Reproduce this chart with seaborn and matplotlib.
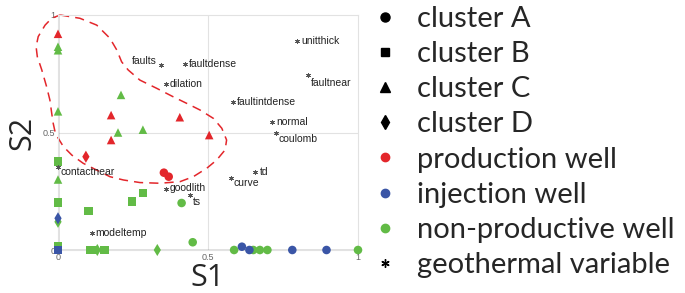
import pandas as pd
import numpy as np
import matplotlib
matplotlib.use("Agg")
import matplotlib.pyplot as plt
from matplotlib.lines import Line2D
import seaborn as sns

# wells: S1, S2, cluster, well type
well_x = [0.0, 0.177, 0.406, 0.177, 0.504, 0.093, 0.353, 0.369,
          0.0, 0.0, 0.0, 0.21, 0.2, 0.283, 0.0,
          0.0, 0.0, 0.102, 0.246, 0.283, 0.0, 0.107, 0.118, 0.155,
          0.0, 0.131, 0.331,
          0.412, 0.449, 0.587, 0.651, 0.673, 0.698, 1.0,
          0.0, 0.0, 0.613, 0.638, 0.781, 0.895]
well_y = [0.92, 0.574, 0.565, 0.468, 0.489, 0.397, 0.329, 0.312,
          0.865, 0.85, 0.59, 0.66, 0.5, 0.512, 0.30,
          0.376, 0.203, 0.166, 0.206, 0.243, 0.014, 0.0, 0.0, 0.0,
          0.12, 0.0, 0.0,
          0.2, 0.033, 0.0, 0.0, 0.0, 0.0, 0.0,
          0.0, 0.135, 0.014, 0.0, 0.0, 0.0]
well_cluster = ["C", "C", "C", "C", "C", "D", "A", "A",
                "C", "C", "C", "C", "C", "C", "C",
                "B", "B", "B", "B", "B", "B", "B", "B", "B",
                "D", "D", "D",
                "A", "A", "A", "A", "A", "A", "A",
                "B", "D", "A", "A", "A", "A"]
well_type = (["production"] * 8 + ["non-productive"] * 26 + ["injection"] * 6)

# geothermal variables
var_names = ["unitthick", "faults", "faultdense", "dilation", "faultnear", "faultintdense",
             "normal", "coulomb", "contactnear", "goodlith", "ts", "curve", "td", "modeltemp"]
var_x = [0.796, 0.344, 0.424, 0.359, 0.834, 0.584, 0.713, 0.727, 0.0, 0.359, 0.44, 0.577, 0.658, 0.112]
var_y = [0.889, 0.787, 0.791, 0.706, 0.745, 0.631, 0.545, 0.496, 0.355, 0.26, 0.234, 0.308, 0.333, 0.071]

# outline of the production-well region (dashed)
hull_x = [0.007, 0.073, 0.129, 0.173, 0.196, 0.212, 0.234, 0.273, 0.329, 0.384, 0.429, 0.473,
          0.518, 0.546, 0.562, 0.557, 0.529, 0.496, 0.451, 0.407, 0.340, 0.273, 0.218, 0.173,
          0.129, 0.084, 0.046, 0.018, 0.001, -0.010, -0.016, -0.021, -0.027, -0.038, -0.054,
          -0.069, -0.073, -0.066, -0.043, -0.021, 0.007]
hull_y = [1.0, 0.986, 0.957, 0.901, 0.851, 0.801, 0.766, 0.723, 0.688, 0.652, 0.624, 0.596,
          0.560, 0.518, 0.468, 0.426, 0.383, 0.348, 0.312, 0.291, 0.284, 0.287, 0.298, 0.312,
          0.340, 0.369, 0.404, 0.440, 0.475, 0.504, 0.539, 0.582, 0.638, 0.695, 0.766,
          0.823, 0.865, 0.908, 0.957, 0.986, 1.0]

df = pd.DataFrame({"S1": well_x, "S2": well_y, "cluster": well_cluster, "well": well_type})

RED, BLUE, GREEN = "#e3262b", "#3a55a6", "#62bb46"
pal = {"production": RED, "injection": BLUE, "non-productive": GREEN}
mk = {"A": "o", "B": "s", "C": "^", "D": "d"}
ASTER = (6, 2, 0)

# label placement (offset in points, alignment)
lab_pos = {"faults": (-3, 3, "right"), "faultnear": (2, -6, "left"), "coulomb": (2, -4, "left"),
           "ts": (2, -5, "left"), "curve": (2, -4, "left"), "contactnear": (2, -4, "left"),
           "goodlith": (3, 1, "left")}

sns.set_style("white")
plt.rcParams["font.family"] = ["Liberation Sans", "DejaVu Sans"]

fig = plt.figure(figsize=(6.85, 2.93), dpi=100)
ax = fig.add_axes([58 / 685, 43 / 293, 300 / 685, 235 / 293])

ax.axvline(0.5, color="#e2e2e2", lw=0.8, zorder=0)
ax.axhline(0.5, color="#e2e2e2", lw=0.8, zorder=0)
ax.axvline(0, color="#666666", lw=1.0, zorder=1)
ax.axhline(0, color="#666666", lw=1.0, zorder=1)

ax.plot(hull_x, hull_y, color=RED, lw=1.1, ls=(0, (6, 4)), clip_on=False, zorder=2)

sns.scatterplot(data=df, x="S1", y="S2", hue="well", style="cluster", palette=pal,
                markers=mk, s=38, linewidth=0, legend=False, clip_on=False, zorder=3, ax=ax)

ax.scatter(var_x, var_y, marker=ASTER, s=9, color="#555555", linewidths=0.6, zorder=4, clip_on=False)
for n, x, y in zip(var_names, var_x, var_y):
    dx, dy, ha = lab_pos.get(n, (3, 0, "left"))
    ax.annotate(n, (x, y), xytext=(dx, dy), textcoords="offset points", ha=ha, va="center",
                fontsize=7.5, color="#222222")

ax.set_xlim(0, 1)
ax.set_ylim(0, 1)
ax.set_xticks([0, 0.5, 1])
ax.set_xticklabels(["0", "0.5", "1"])
ax.set_yticks([0, 0.5, 1])
ax.set_yticklabels(["0", "0.5", "1"])
ax.tick_params(length=0, labelsize=6.5, colors="#666666", pad=2)
for s in ax.spines.values():
    s.set_color("#e2e2e2")
    s.set_linewidth(0.8)
ax.set_xlabel("S1", fontsize=22, family="Open Sans")
ax.set_ylabel("S2", fontsize=22, family="Open Sans", labelpad=4)
ax.xaxis.set_label_coords(0.5, -0.055, transform=ax.transAxes)
ax.xaxis.label.set_va("top")

handles = [
    Line2D([], [], ls="", marker="o", color="black", ms=6.5),
    Line2D([], [], ls="", marker="s", color="black", ms=5.5),
    Line2D([], [], ls="", marker="^", color="black", ms=7),
    Line2D([], [], ls="", marker="d", color="black", ms=7.5),
    Line2D([], [], ls="", marker="o", color=RED, ms=6),
    Line2D([], [], ls="", marker="o", color=BLUE, ms=6),
    Line2D([], [], ls="", marker="o", color=GREEN, ms=6),
    Line2D([], [], ls="", marker=ASTER, color="black", ms=6, markeredgewidth=1.0),
]
labels = ["cluster A", "cluster B", "cluster C", "cluster D", "production well",
          "injection well", "non-productive well", "geothermal variable"]
fig.legend(handles, labels, loc="upper left", bbox_to_anchor=(359 / 685, 1.03), frameon=False,
           prop={"family": "Lato", "size": 21}, handlelength=0.8, handletextpad=0.7,
           labelspacing=0.315, borderpad=0)

fig.savefig("out.png", dpi=100)
